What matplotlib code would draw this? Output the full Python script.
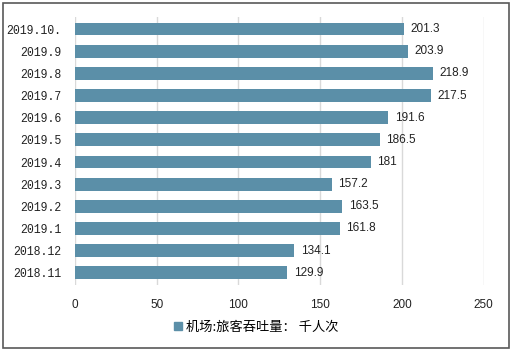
import matplotlib.pyplot as plt
import matplotlib.patches as mpatches

plt.rcParams['font.family'] = ['Noto Sans CJK SC', 'DejaVu Sans']

# data (bottom to top)
months = ['2018.11', '2018.12', '2019.1', '2019.2', '2019.3', '2019.4',
          '2019.5', '2019.6', '2019.7', '2019.8', '2019.9', '2019.10.']
passengers = [129.9, 134.1, 161.8, 163.5, 157.2, 181, 186.5, 191.6, 217.5, 218.9, 203.9, 201.3]
value_labels = ['129.9', '134.1', '161.8', '163.5', '157.2', '181',
                '186.5', '191.6', '217.5', '218.9', '203.9', '201.3']
legend_name = '机场:旅客吞吐量： 千人次'
bar_color = '#5B8FA8'

fig = plt.figure(figsize=(5.13, 3.51), dpi=100)
ax = fig.add_axes([0.146, 0.188, 0.797, 0.764])

ypos = range(len(months))
ax.barh(ypos, passengers, height=0.58, color=bar_color, zorder=3)
for y, v, lab in zip(ypos, passengers, value_labels):
    ax.text(v + 4, y, lab, va='center', ha='left', fontsize=8.5, color='#222222',
            family=['Liberation Sans', 'DejaVu Sans'])

ax.set_xlim(0, 250)
ax.set_ylim(-0.55, len(months) - 0.45)
ax.set_xticks([0, 50, 100, 150, 200, 250])
ax.set_yticks(list(ypos))
ax.set_yticklabels(months, family=['Liberation Mono', 'DejaVu Sans Mono'], fontsize=8.3)
ax.tick_params(axis='x', labelsize=8.5, length=0, pad=10, colors='#222222')
ax.tick_params(axis='y', length=0, pad=10, colors='#222222')
for lab in ax.get_xticklabels():
    lab.set_family(['Liberation Sans', 'DejaVu Sans'])
ax.grid(axis='x', color='#D9D9D9', linewidth=1, zorder=0)
for s in ax.spines.values():
    s.set_visible(False)

handle = mpatches.Patch(color=bar_color, label=legend_name)
fig.legend(handles=[handle], loc='center', bbox_to_anchor=(0.50, 0.068), frameon=False,
           fontsize=9.5, handlelength=0.6, handleheight=0.6, handletextpad=0.3)

border = mpatches.Rectangle((0.006, 0.009), 0.986, 0.982, transform=fig.transFigure,
                            fill=False, edgecolor='#595959', linewidth=1.2)
fig.patches.append(border)

fig.savefig('out.png', dpi=100)
